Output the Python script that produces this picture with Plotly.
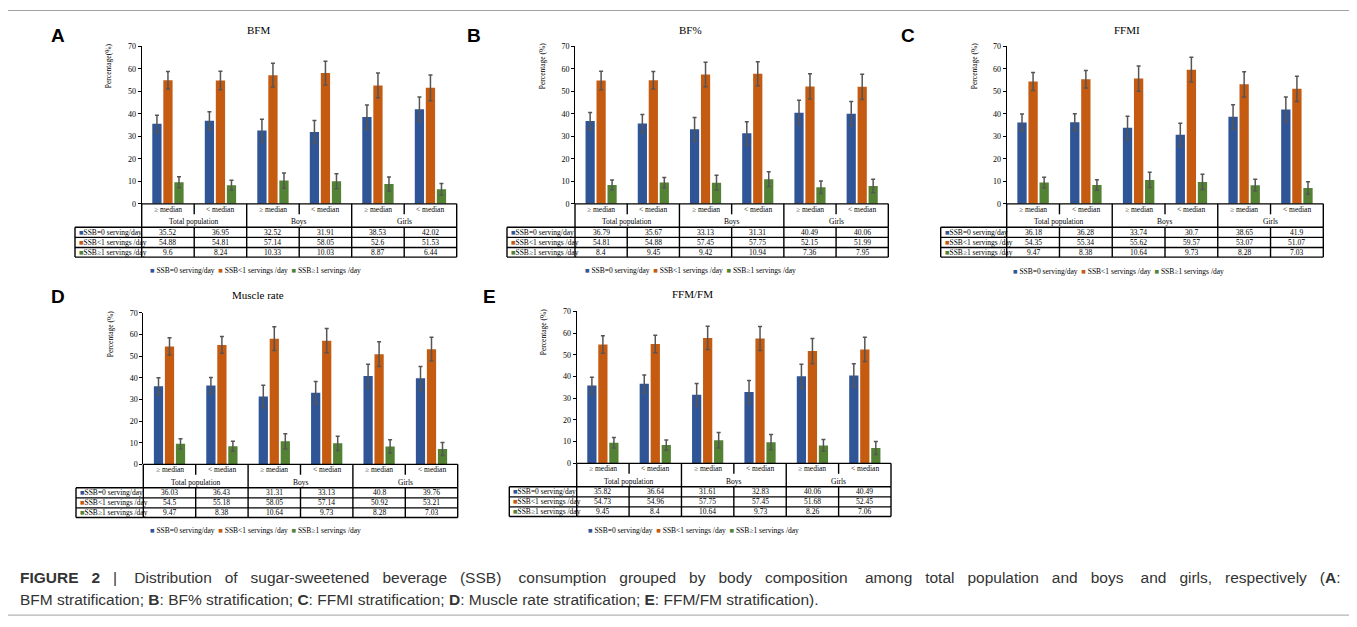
import plotly.graph_objects as go

W, H = 1357, 627
OFF = 8  # page body margin in the browser
FW, FH = W - OFF, H - OFF

# ---------------- data ----------------
categories = ["≥ median", "< median", "≥ median", "< median", "≥ median", "< median"]
groups = ["Total population", "Boys", "Girls"]
series_names = ["SSB=0 serving/day", "SSB<1 servings /day", "SSB≥1 servings /day"]
colors = ["#2F5597", "#C55A11", "#548235"]

panel_letters = ["A", "B", "C", "D", "E"]
panel_titles = ["BFM", "BF%", "FFMI", "Muscle rate", "FFM/FM"]
y_titles = ["Percentage(%)", "Percentage (%)", "Percentage (%)", "Percentage (%)", "Percentage (%)"]

# A: BFM
bfm_ssb0 = [35.52, 36.95, 32.52, 31.91, 38.53, 42.02]
bfm_lt1 = [54.88, 54.81, 57.14, 58.05, 52.6, 51.53]
bfm_ge1 = [9.6, 8.24, 10.33, 10.03, 8.87, 6.44]
bfm_err0 = [3.8, 4.0, 5.0, 5.1, 5.4, 5.4]
bfm_errlt1 = [3.9, 4.1, 5.3, 5.3, 5.5, 5.7]
bfm_errge1 = [2.4, 2.2, 3.4, 3.3, 3.1, 2.6]

# B: BF%
bfp_ssb0 = [36.79, 35.67, 33.13, 31.31, 40.49, 40.06]
bfp_lt1 = [54.81, 54.88, 57.45, 57.75, 52.15, 51.99]
bfp_ge1 = [8.4, 9.45, 9.42, 10.94, 7.36, 7.95]
bfp_err0 = [3.8, 4.0, 5.2, 5.2, 5.5, 5.4]
bfp_errlt1 = [4.1, 3.9, 5.4, 5.3, 5.6, 5.6]
bfp_errge1 = [2.2, 2.3, 3.3, 3.3, 2.8, 3.0]

# C: FFMI
ffmi_ssb0 = [36.18, 36.28, 33.74, 30.7, 38.65, 41.9]
ffmi_lt1 = [54.35, 55.34, 55.62, 59.57, 53.07, 51.07]
ffmi_ge1 = [9.47, 8.38, 10.64, 9.73, 8.28, 7.03]
ffmi_err0 = [3.7, 3.7, 5.2, 5.1, 5.4, 5.6]
ffmi_errlt1 = [4.0, 3.9, 5.6, 5.5, 5.6, 5.6]
ffmi_errge1 = [2.4, 2.3, 3.4, 3.4, 2.6, 2.8]

# D: Muscle rate
mr_ssb0 = [36.03, 36.43, 31.31, 33.13, 40.8, 39.76]
mr_lt1 = [54.5, 55.18, 58.05, 57.14, 50.92, 53.21]
mr_ge1 = [9.47, 8.38, 10.64, 9.73, 8.28, 7.03]
mr_err0 = [4.0, 3.7, 5.2, 5.2, 5.4, 5.5]
mr_errlt1 = [4.0, 3.9, 5.5, 5.6, 5.7, 5.5]
mr_errge1 = [2.4, 2.3, 3.5, 3.3, 3.1, 3.0]

# E: FFM/FM
ffmfm_ssb0 = [35.82, 36.64, 31.61, 32.83, 40.06, 40.49]
ffmfm_lt1 = [54.73, 54.96, 57.75, 57.45, 51.68, 52.45]
ffmfm_ge1 = [9.45, 8.4, 10.64, 9.73, 8.26, 7.06]
ffmfm_err0 = [3.8, 4.0, 5.2, 5.3, 5.5, 5.4]
ffmfm_errlt1 = [4.0, 4.0, 5.4, 5.5, 5.8, 5.6]
ffmfm_errge1 = [2.4, 2.4, 3.6, 3.5, 2.7, 3.0]

y_ticks = [0, 10, 20, 30, 40, 50, 60, 70]

caption_line1 = ("<b>FIGURE 2</b> | Distribution of sugar-sweetened beverage (SSB) consumption grouped by body "
                 "composition among total population and boys and girls, respectively (<b>A</b>:")
caption_line2 = ("BFM stratification; <b>B</b>: BF% stratification; <b>C</b>: FFMI stratification; "
                 "<b>D</b>: Muscle rate stratification; <b>E</b>: FFM/FM stratification).")

panel_values = [
    (bfm_ssb0, bfm_lt1, bfm_ge1),
    (bfp_ssb0, bfp_lt1, bfp_ge1),
    (ffmi_ssb0, ffmi_lt1, ffmi_ge1),
    (mr_ssb0, mr_lt1, mr_ge1),
    (ffmfm_ssb0, ffmfm_lt1, ffmfm_ge1),
]
panel_errors = [
    (bfm_err0, bfm_errlt1, bfm_errge1),
    (bfp_err0, bfp_errlt1, bfp_errge1),
    (ffmi_err0, ffmi_errlt1, ffmi_errge1),
    (mr_err0, mr_errlt1, mr_errge1),
    (ffmfm_err0, ffmfm_errlt1, ffmfm_errge1),
]

# ---------------- geometry (page pixels) ----------------
geom = [
    dict(x0=141.7, x1=456.7, y0=202.7, y70=42.7, lab=75.0, letter=(58, 32), title=(258, 26), ytitle=(108, 63), legend=(255, 270)),
    dict(x0=575.0, x1=888.3, y0=202.7, y70=42.7, lab=507.0, letter=(474, 32), title=(690, 26), ytitle=(542, 63), legend=(690, 270)),
    dict(x0=1006.7, x1=1323.3, y0=202.7, y70=42.7, lab=940.7, letter=(908, 32), title=(1127, 26), ytitle=(974, 63), legend=(1118, 271)),
    dict(x0=143.3, x1=457.7, y0=467.0, y70=313.3, lab=76.0, letter=(58, 297), title=(258, 295), ytitle=(110, 335), legend=(255, 534)),
    dict(x0=576.7, x1=891.0, y0=466.0, y70=311.7, lab=509.3, letter=(489, 297), title=(692, 294), ytitle=(543, 333), legend=(693, 534)),
]

SERIF = "Liberation Serif, Times New Roman, serif"
SANS = "Liberation Sans, Arial, sans-serif"


def PX(x):
    return (x - OFF) / FW


def PY(y):
    return 1 - (y - OFF) / FH


def justify(text):
    # widen word gaps to emulate the justified caption line
    parts = text.split(" ")
    out = parts[0]
    for k, p in enumerate(parts[1:]):
        if out.endswith("<b"):
            out += " " + p
            continue
        extra = 3 if k % 5 == 2 else 2
        out += " " + "\u00a0" * extra + p
    return out


fig = go.Figure()
shapes = []
annotations = []

for i, g in enumerate(geom):
    xa = "x" if i == 0 else f"x{i+1}"
    ya = "y" if i == 0 else f"y{i+1}"
    vals = panel_values[i]
    errs = panel_errors[i]
    for s in range(3):
        fig.add_trace(go.Bar(
            x=list(range(len(categories))), y=vals[s], name=series_names[s],
            marker=dict(color=colors[s], line=dict(width=0)),
            error_y=dict(type="data", array=errs[s], visible=True, color="#555555", thickness=1.5, width=2),
            xaxis=xa, yaxis=ya, showlegend=False,
        ))
    lay_x = "xaxis" if i == 0 else f"xaxis{i+1}"
    lay_y = "yaxis" if i == 0 else f"yaxis{i+1}"
    fig.layout[lay_x] = dict(domain=[PX(g["x0"]), PX(g["x1"])], range=[-0.5, 5.5], anchor=ya,
                             showticklabels=False, ticks="", showline=False, showgrid=False,
                             zeroline=False, fixedrange=True)
    fig.layout[lay_y] = dict(domain=[PY(g["y0"]), PY(g["y70"])], range=[0, 70], anchor=xa,
                             tickvals=y_ticks, ticks="outside", ticklen=3, tickcolor="black",
                             showline=True, linecolor="black", linewidth=1, showgrid=False,
                             zeroline=False, tickfont=dict(family=SERIF, size=8, color="black"),
                             fixedrange=True)

    x0, x1, y0, lab = g["x0"], g["x1"], g["y0"], g["lab"]
    cw = (x1 - x0) / 6.0
    colx = [x0 + k * cw for k in range(7)]
    line = dict(color="black", width=1.4)
    shapes.append(dict(type="line", xref="paper", yref="paper", x0=PX(x0), x1=PX(x1), y0=PY(y0), y1=PY(y0), line=line))
    for k in range(7):
        bottom = y0 + 23.8 if k % 2 == 0 else y0 + 10.6
        shapes.append(dict(type="line", xref="paper", yref="paper", x0=PX(colx[k]), x1=PX(colx[k]),
                           y0=PY(y0), y1=PY(bottom), line=line))
    row_lines = [y0 + 23.8, y0 + 34.0, y0 + 44.2, y0 + 54.0]
    for yy in row_lines:
        shapes.append(dict(type="line", xref="paper", yref="paper", x0=PX(lab), x1=PX(x1), y0=PY(yy), y1=PY(yy), line=line))
    for xx in [lab] + colx:
        shapes.append(dict(type="line", xref="paper", yref="paper", x0=PX(xx), x1=PX(xx),
                           y0=PY(row_lines[0]), y1=PY(row_lines[-1]), line=line))

    tfont = dict(family=SERIF, size=7.5, color="black")
    for k, c in enumerate(categories):
        annotations.append(dict(xref="paper", yref="paper", x=PX(colx[k] + cw / 2), y=PY(y0 + 5.6),
                                text=c, showarrow=False, xanchor="center", yanchor="middle", font=tfont))
    for k, gname in enumerate(groups):
        annotations.append(dict(xref="paper", yref="paper", x=PX(colx[2 * k] + cw), y=PY(y0 + 18.0),
                                text=gname, showarrow=False, xanchor="center", yanchor="middle", font=tfont))
    for s in range(3):
        yc = (row_lines[s] + row_lines[s + 1]) / 2
        annotations.append(dict(xref="paper", yref="paper", x=PX(lab + 2), y=PY(yc),
                                text=f'<span style="color:{colors[s]}">■</span>{series_names[s]}',
                                showarrow=False, xanchor="left", yanchor="middle", font=tfont))
        for k in range(6):
            annotations.append(dict(xref="paper", yref="paper", x=PX(colx[k] + cw / 2), y=PY(yc),
                                    text=str(vals[s][k]), showarrow=False, xanchor="center",
                                    yanchor="middle", font=tfont))
    leg = "  ".join(f'<span style="color:{colors[s]}">■</span> {series_names[s]}' for s in range(3))
    annotations.append(dict(xref="paper", yref="paper", x=PX(g["legend"][0]), y=PY(g["legend"][1]),
                            text=leg, showarrow=False, xanchor="center", yanchor="middle", font=tfont))
    annotations.append(dict(xref="paper", yref="paper", x=PX(g["title"][0]), y=PY(g["title"][1]),
                            text=panel_titles[i], showarrow=False, xanchor="center", yanchor="middle",
                            font=dict(family=SERIF, size=11, color="black")))
    annotations.append(dict(xref="paper", yref="paper", x=PX(g["ytitle"][0]), y=PY(g["ytitle"][1]),
                            text=y_titles[i], showarrow=False, textangle=-90, xanchor="center",
                            yanchor="middle", font=dict(family=SERIF, size=7.5, color="black")))
    annotations.append(dict(xref="paper", yref="paper", x=PX(g["letter"][0]), y=PY(g["letter"][1]),
                            text=f"<b>{panel_letters[i]}</b>", showarrow=False, xanchor="center",
                            yanchor="middle", font=dict(family=SANS, size=19, color="black")))

# caption
annotations.append(dict(xref="paper", yref="paper", x=PX(18), y=PY(582), text=justify(caption_line1),
                        showarrow=False, xanchor="left", yanchor="middle",
                        font=dict(family=SANS, size=15.5, color="#333333")))
annotations.append(dict(xref="paper", yref="paper", x=PX(18), y=PY(604), text=caption_line2, showarrow=False,
                        xanchor="left", yanchor="middle", font=dict(family=SANS, size=15.5, color="#333333")))

# outer frame
shapes.append(dict(type="rect", xref="paper", yref="paper", x0=PX(7.5), x1=PX(1350), y0=PY(6.5), y1=PY(620),
                   line=dict(color="#A0A0A0", width=1)))

fig.update_layout(
    width=FW, height=FH, margin=dict(l=0, r=0, t=0, b=0),
    paper_bgcolor="white", plot_bgcolor="white",
    barmode="group", bargap=0.37, bargroupgap=0.16,
    shapes=shapes, annotations=annotations, showlegend=False,
)

fig.write_html("out.html")
